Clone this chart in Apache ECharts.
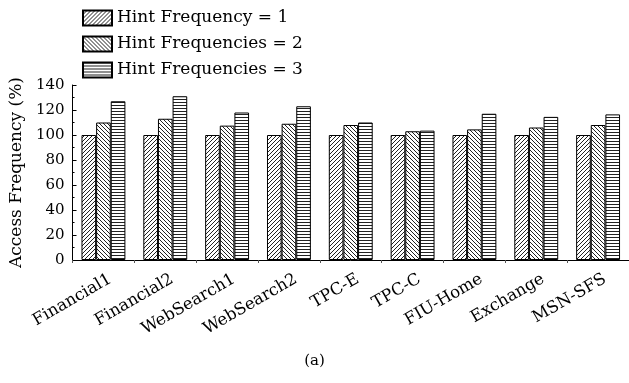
<!DOCTYPE html>
<html>
<head>
<meta charset="utf-8">
<script src="https://cdn.jsdelivr.net/npm/echarts@6/dist/echarts.min.js"></script>
<style>
  html, body { margin: 0; padding: 0; background: #fff; }
  #chart { width: 629px; height: 383px; }
</style>
</head>
<body>
<div id="chart"></div>
<script>
// Workload traces on the x axis
const categories = ['Financial1', 'Financial2', 'WebSearch1', 'WebSearch2', 'TPC-E', 'TPC-C', 'FIU-Home', 'Exchange', 'MSN-SFS'];

// Access frequency (%) for each hint frequency setting
const hint1 = [100, 100, 100, 100, 100, 100, 100, 100, 100];
const hint2 = [110, 113, 107.5, 109, 108, 103, 104.5, 106, 108];
const hint3 = [127, 131, 118, 123, 110, 103.5, 117, 114.5, 116.5];

const seriesNames = ['Hint Frequency = 1', 'Hint Frequencies = 2', 'Hint Frequencies = 3'];
const yTicks = { min: 0, max: 140, interval: 20 };

// Hatch fills drawn on small tiles
function hatch(kind) {
  const c = document.createElement('canvas');
  const n = kind === 'h' ? 3 : 4;
  c.width = n; c.height = n;
  const g = c.getContext('2d');
  g.fillStyle = '#fff';
  g.fillRect(0, 0, n, n);
  g.strokeStyle = '#222';
  g.lineWidth = 1;
  g.beginPath();
  if (kind === 'h') {
    g.moveTo(0, 0.5); g.lineTo(n, 0.5);
  } else if (kind === '/') {
    g.moveTo(-1, n + 1); g.lineTo(n + 1, -1);
    g.moveTo(-1, 1); g.lineTo(1, -1);
    g.moveTo(n - 1, n + 1); g.lineTo(n + 1, n - 1);
  } else {
    g.moveTo(-1, -1); g.lineTo(n + 1, n + 1);
    g.moveTo(n - 1, -1); g.lineTo(n + 1, 1);
    g.moveTo(-1, n - 1); g.lineTo(1, n + 1);
  }
  g.stroke();
  return { image: c, repeat: 'repeat' };
}

const fills = [hatch('/'), hatch('\\'), hatch('h')];
const font = 'DejaVu Serif';

const chart = echarts.init(document.getElementById('chart'), null, { renderer: 'canvas' });
chart.setOption({
  animation: false,
  backgroundColor: '#fff',
  textStyle: { fontFamily: font, color: '#000' },
  title: {
    text: '(a)',
    left: 'center',
    top: 354,
    padding: 0,
    textStyle: { fontFamily: font, fontSize: 15, fontWeight: 'normal', color: '#000' }
  },
  legend: {
    orient: 'vertical',
    left: 82,
    top: 9,
    padding: 0,
    icon: 'rect',
    itemWidth: 29,
    itemHeight: 15,
    itemGap: 8,
    textStyle: { fontFamily: font, fontSize: 17, color: '#000', lineHeight: 18 },
    data: seriesNames
  },
  grid: { left: 70, top: 85, width: 560, height: 175 },
  xAxis: {
    type: 'category',
    data: categories,
    axisLine: { lineStyle: { color: '#000', width: 1 } },
    axisTick: { show: true, length: 3, lineStyle: { color: '#555' } },
    axisLabel: {
      rotate: 30, fontFamily: font, fontSize: 16.5, color: '#000',
      margin: 22, padding: [0, -8, 0, 0]
    }
  },
  yAxis: {
    type: 'value',
    min: yTicks.min,
    max: yTicks.max,
    interval: yTicks.interval,
    name: 'Access Frequency (%)',
    nameLocation: 'middle',
    nameGap: 47,
    nameTextStyle: { fontFamily: font, fontSize: 17, color: '#000' },
    axisLine: { show: true, lineStyle: { color: '#000', width: 1 } },
    axisTick: { show: true, inside: true, length: 4, lineStyle: { color: '#000' } },
    minorTick: { show: true, splitNumber: 2, length: 2, lineStyle: { color: '#000' } },
    splitLine: { show: false },
    axisLabel: { fontFamily: font, fontSize: 15, color: '#000', margin: 8 }
  },
  series: [hint1, hint2, hint3].map((vals, i) => ({
    name: seriesNames[i],
    type: 'bar',
    data: vals,
    barGap: '0%',
    barCategoryGap: '29%',
    itemStyle: { color: fills[i], borderColor: '#000', borderWidth: 1 }
  }))
});
</script>
</body>
</html>
